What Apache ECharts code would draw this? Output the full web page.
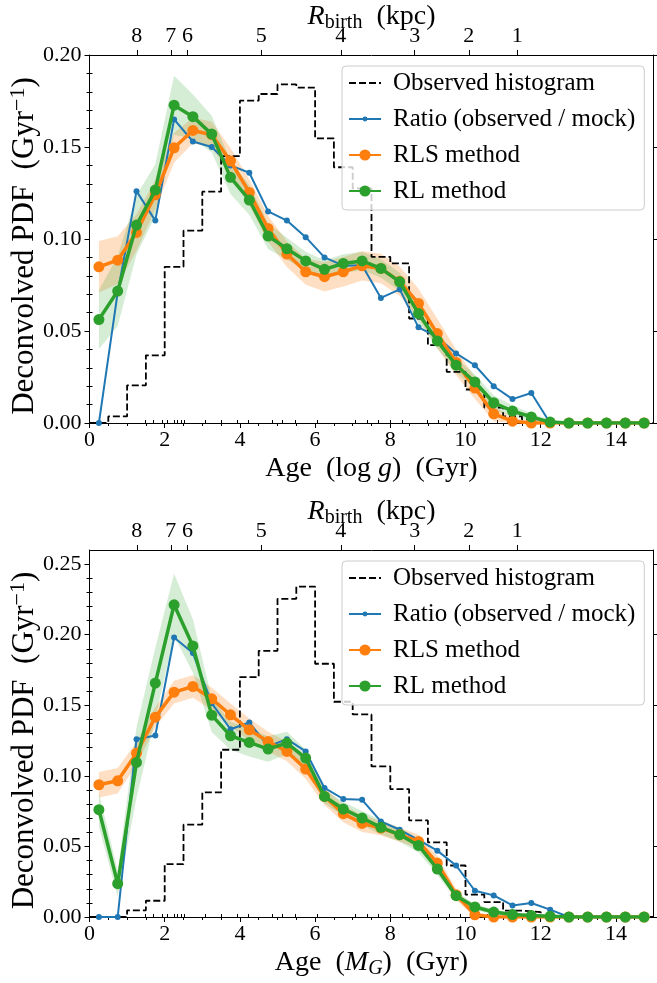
<!DOCTYPE html>
<html>
<head>
<meta charset="utf-8">
<title>Deconvolved age PDF</title>
<script src="https://cdn.jsdelivr.net/npm/echarts@6/dist/echarts.min.js"></script>
<style>
  html, body { margin: 0; padding: 0; background: #fff; }
  #chart { width: 657px; height: 983px; }
</style>
</head>
<body>
<div id="chart"></div>
<script>
// centres of the 0.5 Gyr age bins (Gyr)
const ages = [0.25, 0.75, 1.25, 1.75, 2.25, 2.75, 3.25, 3.75, 4.25, 4.75, 5.25, 5.75, 6.25, 6.75, 7.25,
  7.75, 8.25, 8.75, 9.25, 9.75, 10.25, 10.75, 11.25, 11.75, 12.25, 12.75, 13.25, 13.75, 14.25, 14.75]
// left edges of the histogram bins, last one closes the step line
const binEdges = [0, 0.5, 1, 1.5, 2, 2.5, 3, 3.5, 4, 4.5, 5, 5.5, 6, 6.5, 7, 7.5, 8, 8.5, 9, 9.5,
  10, 10.5, 11, 11.5, 12, 12.5, 13, 13.5, 14, 14.5, 15]

// upper panel: ages from log g
const histLogg = [0, 0.0036, 0.0205, 0.0368, 0.0849, 0.1045, 0.1257, 0.145, 0.1752, 0.1788, 0.184, 0.1823,
  0.1547, 0.139, 0.1275, 0.0903, 0.0867, 0.0568, 0.0423, 0.0278, 0.0182, 0.0084, 0.0036, 0.002, 0, 0, 0, 0, 0, 0]
const ratioLogg = [0, 0.071, 0.126, 0.110, 0.165, 0.153, 0.150, 0.140, 0.136, 0.115, 0.110, 0.101, 0.090,
  0.0855, 0.0858, 0.068, 0.0726, 0.052, 0.0468, 0.0378, 0.0314, 0.020, 0.013, 0.0163, 0, 0, 0, 0, 0, 0]
const rlsLogg = [0.0849, 0.0885, 0.1036, 0.124, 0.1496, 0.159, 0.1567, 0.1424, 0.1253, 0.1057, 0.0918, 0.0822,
  0.0795, 0.0822, 0.0854, 0.084, 0.077, 0.065, 0.0486, 0.0329, 0.019, 0.005, 0.001, 0, 0, 0, 0, 0, 0, 0]
const rlsErrLogg = [0.014, 0.013, 0.010, 0.008, 0.008, 0.007, 0.007, 0.007, 0.007, 0.007, 0.007, 0.007, 0.008,
  0.008, 0.008, 0.008, 0.008, 0.008, 0.008, 0.007, 0.006, 0.004, 0.002, 0.001, 0, 0, 0, 0, 0, 0]
const rlLogg = [0.0562, 0.0717, 0.1076, 0.1266, 0.1727, 0.1665, 0.157, 0.1335, 0.1212, 0.1016, 0.0947, 0.0881,
  0.0835, 0.0867, 0.0881, 0.084, 0.0767, 0.0595, 0.0446, 0.0314, 0.0223, 0.011, 0.0065, 0.0033, 0.0005, 0, 0, 0, 0, 0]
const rlErrLogg = [0.016, 0.019, 0.016, 0.014, 0.016, 0.012, 0.010, 0.009, 0.008, 0.007, 0.006, 0.005, 0.005,
  0.005, 0.005, 0.005, 0.005, 0.005, 0.004, 0.004, 0.004, 0.004, 0.003, 0.002, 0.001, 0, 0, 0, 0, 0]

// lower panel: ages from M_G
const histMg = [0, 0, 0.0047, 0.0115, 0.0375, 0.0654, 0.0883, 0.1185, 0.17, 0.1886, 0.2254, 0.2341, 0.1794,
  0.1525, 0.1435, 0.1067, 0.0906, 0.0684, 0.0528, 0.0365, 0.0158, 0.0106, 0.0045, 0.0035, 0, 0, 0, 0, 0, 0]
const ratioMg = [0, 0, 0.126, 0.1286, 0.198, 0.187, 0.1515, 0.133, 0.1378, 0.1208, 0.126, 0.1173, 0.0914,
  0.0836, 0.083, 0.0677, 0.0618, 0.0547, 0.047, 0.0365, 0.0186, 0.0153, 0.0082, 0.0099, 0.0052, 0, 0, 0, 0, 0]
const rlsMg = [0.0937, 0.0965, 0.116, 0.1416, 0.1593, 0.1633, 0.1546, 0.1432, 0.1326, 0.1243, 0.1173, 0.1048,
  0.0854, 0.0732, 0.0663, 0.063, 0.0583, 0.0535, 0.0382, 0.0158, 0.0016, 0, 0, 0, 0, 0, 0, 0, 0, 0]
const rlsErrMg = [0.009, 0.009, 0.008, 0.007, 0.008, 0.008, 0.008, 0.008, 0.008, 0.007, 0.007, 0.007, 0.006,
  0.006, 0.006, 0.005, 0.005, 0.005, 0.005, 0.004, 0.002, 0.001, 0, 0, 0, 0, 0, 0, 0, 0]
const rlMg = [0.076, 0.0236, 0.1095, 0.1657, 0.2212, 0.192, 0.143, 0.1284, 0.1237, 0.119, 0.1232, 0.1126,
  0.0854, 0.0765, 0.0701, 0.0635, 0.0583, 0.0507, 0.034, 0.0151, 0.0071, 0.0035, 0.0017, 0.001, 0.0005, 0, 0, 0, 0, 0]
const rlErrMg = [0.012, 0.009, 0.025, 0.025, 0.022, 0.019, 0.012, 0.010, 0.010, 0.009, 0.008, 0.006, 0.005,
  0.005, 0.005, 0.005, 0.005, 0.005, 0.004, 0.003, 0.002, 0.002, 0.001, 0.001, 0.001, 0, 0, 0, 0, 0]

// tick positions
const ageTicks = [0, 2, 4, 6, 8, 10, 12, 14]
const ageMinorTicks = [0.5, 1, 1.5, 2.5, 3, 3.5, 4.5, 5, 5.5, 6.5, 7, 7.5, 8.5, 9, 9.5, 10.5, 11, 11.5,
  12.5, 13, 13.5, 14.5]
// birth radius axis on top: where each radius falls on the age axis
const rbirthLabels = ['8', '7', '6', '5', '4', '3', '2', '1']
const rbirthAges = [1.257, 2.162, 2.605, 4.567, 6.685, 8.65, 10.088, 11.377]
const rbirthMinorAges = [1.478, 1.699, 1.923, 2.056, 2.25, 2.338, 2.429, 2.517, 3.076, 3.494, 3.92, 4.229,
  4.852, 5.119, 5.473, 6.05, 7.07, 7.382, 7.691, 8.0, 8.314, 8.98, 9.262, 9.555, 9.867, 10.31, 10.578, 10.844, 11.11]
const pdfTicksTop = [0, 0.05, 0.1, 0.15, 0.2]
const pdfMinorTop = [0.01, 0.02, 0.03, 0.04, 0.06, 0.07, 0.08, 0.09, 0.11, 0.12, 0.13, 0.14, 0.16, 0.17, 0.18, 0.19]
const pdfTicksBottom = [0, 0.05, 0.1, 0.15, 0.2, 0.25]
const pdfMinorBottom = pdfMinorTop.concat([0.21, 0.22, 0.23, 0.24])

const FONT = 'Liberation Serif'
const BLUE = '#1f77b4'
const ORANGE = '#ff7f0e'
const GREEN = '#2ca02c'

function pairs(xs, ys) {
  return xs.map((x, i) => [x, ys[i]])
}

const tickStyle = { color: '#000', width: 1 }
const spine = { show: true, onZero: false, lineStyle: { color: '#000', width: 1 } }
const tickFont = { color: '#000', fontFamily: FONT, fontSize: 22, hideOverlap: false }
const nameRich = {
  n: { fontFamily: FONT, fontSize: 28, lineHeight: 32, color: '#000' },
  it: { fontFamily: FONT, fontSize: 28, lineHeight: 32, fontStyle: 'italic', color: '#000' },
  sub: { fontFamily: FONT, fontSize: 20, lineHeight: 16, verticalAlign: 'bottom', color: '#000' },
  subit: { fontFamily: FONT, fontSize: 20, lineHeight: 16, verticalAlign: 'bottom', fontStyle: 'italic', color: '#000' }
}
// the y title is set a little larger
const yNameRich = {
  n: { fontFamily: FONT, fontSize: 31, lineHeight: 35, color: '#000' },
  sup: { fontFamily: FONT, fontSize: 22, lineHeight: 16, verticalAlign: 'top', color: '#000' }
}

/**
 * x axes of one panel: age below (major + minor), birth radius on top (major + minor)
 */
function xAxesFor(grid, title) {
  const base = { gridIndex: grid, type: 'value', min: 0, max: 15, splitLine: { show: false } }
  return [
    Object.assign({}, base, {
      position: 'bottom',
      axisLine: spine,
      axisTick: { show: true, length: 5, customValues: ageTicks, lineStyle: tickStyle },
      axisLabel: Object.assign({ show: true, customValues: ageTicks, margin: 6 }, tickFont),
      name: title,
      nameLocation: 'middle',
      nameGap: 30,
      nameTextStyle: { rich: nameRich }
    }),
    Object.assign({}, base, {
      position: 'bottom',
      axisLine: { show: false },
      axisTick: { show: true, length: 3, customValues: ageMinorTicks, lineStyle: tickStyle },
      axisLabel: { show: false }
    }),
    Object.assign({}, base, {
      position: 'top',
      axisLine: spine,
      axisTick: { show: true, length: 5, customValues: rbirthAges, lineStyle: tickStyle },
      axisLabel: Object.assign({
        show: true,
        customValues: rbirthAges,
        margin: 8,
        formatter: (v) => {
          // nearest radius tick for this age
          let best = 0
          rbirthAges.forEach((a, i) => {
            if (Math.abs(a - v) < Math.abs(rbirthAges[best] - v)) best = i
          })
          return rbirthLabels[best]
        }
      }, tickFont),
      name: '{it|R}{sub|birth}{n|  (kpc)}',
      nameLocation: 'middle',
      nameGap: 22,
      nameMoveOverlap: false,
      nameTextStyle: { rich: nameRich }
    }),
    Object.assign({}, base, {
      position: 'top',
      axisLine: { show: false },
      axisTick: { show: true, length: 3, customValues: rbirthMinorAges, lineStyle: tickStyle },
      axisLabel: { show: false }
    })
  ]
}

/**
 * y axes of one panel: labelled left side, bare right side
 */
function yAxesFor(grid, yMax, major, minor) {
  const base = { gridIndex: grid, type: 'value', min: 0, max: yMax, splitLine: { show: false } }
  const axes = []
  ;['left', 'right'].forEach((side) => {
    axes.push(Object.assign({}, base, {
      position: side,
      axisLine: spine,
      axisTick: { show: true, length: 5, customValues: major, lineStyle: tickStyle },
      axisLabel: side === 'left'
        ? Object.assign({ show: true, customValues: major, margin: 8, formatter: (v) => v.toFixed(2) }, tickFont)
        : { show: false }
    }))
    axes.push(Object.assign({}, base, {
      position: side,
      axisLine: { show: false },
      axisTick: { show: true, length: 3, customValues: minor, lineStyle: tickStyle },
      axisLabel: { show: false }
    }))
  })
  axes[0].name = '{n|Deconvolved PDF  (Gyr}{sup|\u22121}{n|)}'
  axes[0].nameLocation = 'middle'
  axes[0].nameRotate = 90
  axes[0].nameGap = 47
  axes[0].nameMoveOverlap = false
  // right padding pushes the rotated title a little towards the bottom
  axes[0].nameTextStyle = { rich: yNameRich, padding: [0, 14, 0, 0] }
  return axes
}

/**
 * lines, markers and shaded bands of one panel
 */
function seriesFor(p, hist, ratio, rls, rlsErr, rl, rlErr) {
  const on = { xAxisIndex: 4 * p, yAxisIndex: 4 * p, animation: false, emphasis: { disabled: true } }
  // shaded band between value - err and value + err, drawn as one polygon
  const band = (vals, errs, fill) => {
    const lo = vals.map((v, i) => Math.max(0, v - errs[i]))
    const hi = vals.map((v, i) => v + errs[i])
    return Object.assign({
      type: 'custom',
      data: ages.map((a, i) => [a, lo[i], hi[i]]),
      encode: { x: 0, y: [1, 2] },
      silent: true,
      clip: true,
      z: 1,
      renderItem: (params, api) => {
        if (params.dataIndex !== 0) return null
        const pts = []
        ages.forEach((a, i) => pts.push(api.coord([a, hi[i]])))
        for (let i = ages.length - 1; i >= 0; i--) pts.push(api.coord([ages[i], lo[i]]))
        return { type: 'polygon', shape: { points: pts }, style: { fill: fill } }
      }
    }, on)
  }
  const marked = (name, vals, color, lineWidth, size, z) => Object.assign({
    name: name,
    type: 'line',
    data: pairs(ages, vals),
    symbol: 'circle',
    symbolSize: size,
    showAllSymbol: true,
    lineStyle: { color: color, width: lineWidth },
    itemStyle: { color: color, borderWidth: 0 },
    z: z
  }, on)
  return [
    band(rls, rlsErr, 'rgba(255,127,14,0.25)'),
    band(rl, rlErr, 'rgba(44,160,44,0.2)'),
    Object.assign({
      name: 'Observed histogram',
      type: 'line',
      step: 'end',
      data: pairs(binEdges, hist.concat([hist[hist.length - 1]])),
      symbol: 'none',
      lineStyle: { color: '#000', width: 1.8, type: [7, 3] },
      itemStyle: { color: '#000' },
      z: 2
    }, on),
    marked('Ratio (observed / mock)', ratio, BLUE, 2, 6, 3),
    marked('RLS method', rls, ORANGE, 3.5, 11, 4),
    marked('RL method', rl, GREEN, 3.5, 11, 5)
  ]
}

/**
 * legend box of one panel, split in two so the small blue marker keeps its size
 */
function legendsFor(dy) {
  const text = { fontFamily: FONT, fontSize: 25, color: '#000', lineHeight: 28, padding: [0, 0, 0, 7] }
  return [
    {
      orient: 'vertical',
      left: 342,
      top: 66 + dy,
      data: [{ name: 'Observed histogram', itemStyle: { color: 'rgba(0,0,0,0)' } }, 'Ratio (observed / mock)'],
      itemWidth: 32,
      itemHeight: 6,
      itemGap: 8,
      padding: [3, 9, 77, 6],
      backgroundColor: 'rgba(255,255,255,0.8)',
      borderColor: '#cccccc',
      borderWidth: 1,
      borderRadius: 4,
      selectedMode: false,
      textStyle: text
    },
    {
      orient: 'vertical',
      left: 348,
      top: 141 + dy,
      data: ['RLS method', 'RL method'],
      itemWidth: 32,
      itemHeight: 14,
      itemGap: 8,
      padding: 0,
      selectedMode: false,
      textStyle: text
    }
  ]
}

const chart = echarts.init(document.getElementById('chart'), null, { renderer: 'canvas' })
chart.setOption({
  animation: false,
  backgroundColor: '#fff',
  grid: [
    { left: 89.5, top: 55, width: 564, height: 368, containLabel: false, outerBoundsMode: 'none' },
    { left: 89.5, top: 550, width: 564, height: 367, containLabel: false, outerBoundsMode: 'none' }
  ],
  legend: legendsFor(0).concat(legendsFor(495)),
  xAxis: xAxesFor(0, '{n|Age  (log }{it|g}{n|)  (Gyr)}')
    .concat(xAxesFor(1, '{n|Age  (}{it|M}{subit|G}{n|)  (Gyr)}')),
  yAxis: yAxesFor(0, 0.2, pdfTicksTop, pdfMinorTop)
    .concat(yAxesFor(1, 0.26, pdfTicksBottom, pdfMinorBottom)),
  series: seriesFor(0, histLogg, ratioLogg, rlsLogg, rlsErrLogg, rlLogg, rlErrLogg)
    .concat(seriesFor(1, histMg, ratioMg, rlsMg, rlsErrMg, rlMg, rlErrMg))
})
</script>
</body>
</html>
